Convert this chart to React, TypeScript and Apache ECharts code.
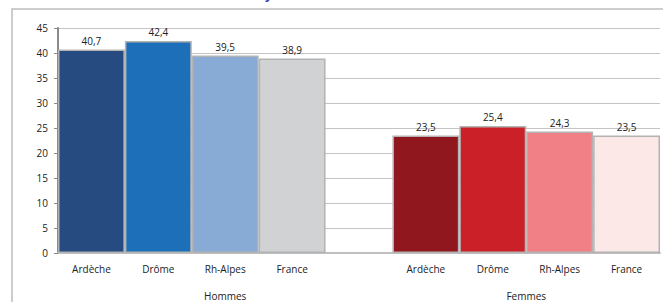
import React, { useEffect, useRef } from "react";
import * as echarts from "echarts";

const categories = ["Ardèche", "Drôme", "Rh-Alpes", "France", "", "Ardèche", "Drôme", "Rh-Alpes", "France"];
const hommes = [40.7, 42.4, 39.5, 38.9];
const femmes = [23.5, 25.4, 24.3, 23.5];
const groups = ["Hommes", "Femmes"];
const yTicks = { min: 0, max: 45, interval: 5 };

const barColors = ["#254b80", "#1c6fb8", "#87abd5", "#d1d2d4", "#ffffff", "#8f171d", "#cb2027", "#f08085", "#fde8e8"];

const FONT = "'Open Sans', 'Noto Sans', sans-serif";

export default function App() {
  const ref = useRef<HTMLDivElement>(null);
  useEffect(() => {
    if (!ref.current) return;
    const chart = echarts.init(ref.current, undefined, { renderer: "svg" });
    const values: any[] = [...hommes, "-", ...femmes];
    const groupAxis: string[] = new Array(19).fill("");
    groupAxis[5] = groups[0];
    groupAxis[14] = groups[1];
    chart.setOption({
      animation: false,
      backgroundColor: "#ffffff",
      textStyle: { fontFamily: FONT },
      grid: { left: 58, right: 2, top: 28, bottom: 49, containLabel: false },
      graphic: [
        {
          type: "rect",
          shape: { x: 12, y: 9, width: 700, height: 400 },
          style: { fill: "none", stroke: "#bdbdbd", lineWidth: 1.5 },
          silent: true,
          z: -10,
        },
        {
          type: "text",
          left: 265,
          top: -13,
          style: { text: "y", fill: "#3b3ba6", font: "bold 13px " + FONT },
        },
      ],
      xAxis: [
        {
          type: "category",
          data: categories,
          axisLine: { show: true, lineStyle: { color: "#bfbfbf", width: 2 } },
          axisTick: { show: false },
          axisLabel: { interval: 0, color: "#222", fontSize: 10, margin: 11, fontFamily: FONT },
          splitLine: { show: false },
        },
        {
          type: "category",
          data: groupAxis,
          boundaryGap: false,
          position: "bottom",
          offset: 28,
          axisLine: { show: false },
          axisTick: { show: false },
          axisLabel: { interval: 0, color: "#222", fontSize: 10, margin: 10, fontFamily: FONT },
          splitLine: { show: false },
        },
      ],
      yAxis: {
        type: "value",
        min: yTicks.min,
        max: yTicks.max,
        interval: yTicks.interval,
        axisLine: { show: true, lineStyle: { color: "#8a8a8a", width: 2 } },
        axisTick: { show: true, inside: false, length: 4, lineStyle: { color: "#8a8a8a", width: 1 } },
        axisLabel: { color: "#222", fontSize: 10, margin: 10, fontFamily: FONT },
        splitLine: { show: true, lineStyle: { color: "#c4c4c4", width: 1 } },
      },
      series: [
        {
          type: "bar",
          xAxisIndex: 0,
          data: values.map((v, i) => ({
            value: v,
            itemStyle: { color: barColors[i] },
          })),
          barCategoryGap: "0%",
          itemStyle: { borderColor: "#b3b3b3", borderWidth: 1.5 },
          label: {
            show: true,
            position: "top",
            distance: 4,
            color: "#222",
            fontSize: 10,
            fontFamily: FONT,
            formatter: (p: any) => String(p.value).replace(".", ","),
          },
        },
      ],
    });
    return () => chart.dispose();
  }, []);
  return (
    <div
      ref={ref}
      style={{ position: "absolute", left: 0, top: 0, width: 663, height: 302 }}
    />
  );
}
